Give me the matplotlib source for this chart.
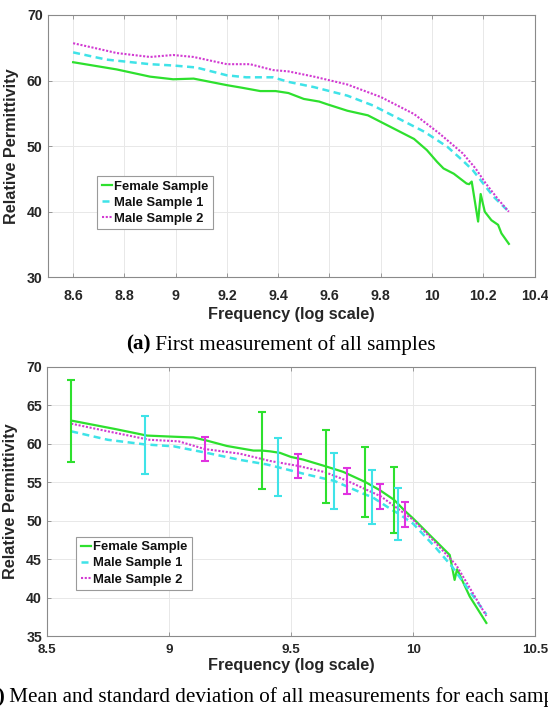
import matplotlib
matplotlib.use("Agg")
import matplotlib.pyplot as plt

# ---------------- data: (a) first measurement ----------------
fem_a_x = [8.6, 8.77, 8.9, 8.99, 9.07, 9.2, 9.26, 9.33, 9.39, 9.44, 9.5, 9.56, 9.59, 9.67, 9.75,
           9.84, 9.93, 9.98, 10.02, 10.045, 10.085, 10.135, 10.145, 10.155, 10.18, 10.19, 10.206,
           10.232, 10.258, 10.271, 10.3]
fem_a_y = [62.8, 61.7, 60.6, 60.2, 60.3, 59.3, 58.9, 58.4, 58.4, 58.1, 57.2, 56.8, 56.4, 55.4, 54.7,
           52.9, 51.1, 49.4, 47.6, 46.6, 45.8, 44.3, 44.2, 44.6, 38.5, 42.7, 40.0,
           38.7, 38.0, 36.7, 35.1]

m1_a_x = [8.6, 8.73, 8.9, 8.99, 9.08, 9.2, 9.275, 9.38, 9.44, 9.54, 9.67, 9.77, 9.86, 9.97,
          10.06, 10.12, 10.16, 10.19, 10.24, 10.3]
m1_a_y = [64.3, 63.2, 62.5, 62.3, 62.0, 60.8, 60.5, 60.5, 59.8, 59.0, 57.7, 56.2, 54.4, 52.2,
          49.9, 47.8, 46.3, 44.8, 42.3, 40.0]

m2_a_x = [8.6, 8.68, 8.77, 8.9, 8.99, 9.07, 9.2, 9.29, 9.38, 9.44, 9.54, 9.67, 9.8, 9.93,
          10.03, 10.12, 10.17, 10.21, 10.26, 10.3]
m2_a_y = [65.7, 65.0, 64.2, 63.6, 63.9, 63.6, 62.5, 62.5, 61.6, 61.4, 60.6, 59.4, 57.5, 54.9,
          51.9, 48.9, 46.6, 44.3, 41.8, 40.0]

# ---------------- data: (b) mean of all measurements ----------------
fem_b_x = [8.6, 8.78, 8.91, 9.02, 9.10, 9.155, 9.237, 9.346, 9.381, 9.414, 9.455, 9.5, 9.55,
           9.642, 9.714, 9.805, 9.864, 9.922, 9.966, 10.0, 10.068, 10.123, 10.15, 10.17, 10.18,
           10.232, 10.3]
fem_b_y = [63.0, 61.9, 61.05, 60.9, 60.8, 60.4, 59.7, 59.1, 59.1, 59.0, 58.8, 58.27, 57.93,
           57.05, 56.33, 55.0, 53.95, 52.7, 51.27, 50.28, 48.12, 46.39, 45.53, 42.29, 43.67,
           40.13, 36.7]

m1_b_x = [8.6, 8.75, 8.902, 9.02, 9.155, 9.29, 9.40, 9.445, 9.55, 9.678, 9.803, 9.833, 9.918,
          9.941, 10.0, 10.095, 10.16, 10.3]
m1_b_y = [61.6, 60.5, 59.9, 59.65, 58.8, 57.9, 57.3, 56.95, 56.1, 55.15, 53.4, 53.05, 51.3,
          50.9, 49.6, 46.4, 44.0, 37.8]

m2_b_x = [8.6, 8.75, 8.92, 9.04, 9.147, 9.29, 9.414, 9.53, 9.639, 9.728, 9.868, 9.97, 10.0,
          10.095, 10.177, 10.3]
m2_b_y = [62.6, 61.6, 60.5, 60.3, 59.3, 58.7, 57.75, 57.1, 56.3, 55.2, 53.15, 50.8, 50.1,
          47.0, 44.2, 37.6]

fem_err_x = [8.6, 9.381, 9.642, 9.805, 9.922]
fem_err_mean = [62.97, 59.12, 57.01, 54.99, 52.67]
fem_err_std = [5.3, 4.95, 4.77, 4.58, 4.27]

m1_err_x = [8.902, 9.445, 9.678, 9.83, 9.938]
m1_err_mean = [59.85, 56.95, 55.12, 53.06, 50.88]
m1_err_std = [3.75, 3.75, 3.67, 3.55, 3.4]

m2_err_x = [9.147, 9.53, 9.728, 9.866, 9.968]
m2_err_mean = [59.28, 57.1, 55.16, 53.13, 50.82]
m2_err_std = [1.53, 1.6, 1.73, 1.68, 1.62]

labels = ["Female Sample", "Male Sample 1", "Male Sample 2"]

xticks_a = [8.6, 8.8, 9.0, 9.2, 9.4, 9.6, 9.8, 10.0, 10.2, 10.4]
xticklabels_a = ["8.6", "8.8", "9", "9.2", "9.4", "9.6", "9.8", "10", "10.2", "10.4"]
yticks_a = [30, 40, 50, 60, 70]
xticks_b = [8.5, 9.0, 9.5, 10.0, 10.5]
xticklabels_b = ["8.5", "9", "9.5", "10", "10.5"]
yticks_b = [35, 40, 45, 50, 55, 60, 65, 70]

xlabel = "Frequency (log scale)"
ylabel = "Relative Permittivity"
cap_a_tag, cap_a_text = "(a)", " First measurement of all samples"
cap_b_tag, cap_b_text = "(b)", " Mean and standard deviation of all measurements for each sample"

# ---------------- style ----------------
GREEN = "#2ee02e"
CYAN = "#3fe3e8"
MAGENTA = "#d23ad2"
TXT = "#262626"
SPINE = "#8a8a8a"
SANS = ["Liberation Sans", "DejaVu Sans"]
SERIF = ["Liberation Serif", "DejaVu Serif"]

W, H = 548, 709
fig = plt.figure(figsize=(W / 100, H / 100), dpi=100)


def px_axes(l, t, r, b):
    return fig.add_axes([l / W, 1 - b / H, (r - l) / W, (b - t) / H])


def style(ax, xticks, xtl, yticks, xlim, ylim, xpad, xlab_y, xsize):
    ax.set_xlim(*xlim)
    ax.set_ylim(*ylim)
    ax.set_xticks(xticks)
    ax.set_xticklabels(xtl)
    ax.set_yticks(yticks)
    ax.grid(True, color="#e8e8e8", lw=0.7)
    ax.set_axisbelow(True)
    for s in ax.spines.values():
        s.set_color(SPINE)
        s.set_linewidth(0.8)
    ax.tick_params(direction="in", length=3, width=0.6, color=SPINE,
                   top=True, right=True, labelsize=10.2, labelcolor=TXT)
    ax.tick_params(axis="x", pad=xpad, labelsize=xsize)
    ax.tick_params(axis="y", pad=3.5)
    for lab in ax.get_xticklabels() + ax.get_yticklabels():
        lab.set_fontfamily(SANS)
        lab.set_fontweight("bold")
    ax.set_xlabel(xlabel, fontsize=11.7, fontweight="bold", color=TXT, family=SANS,
                  va="baseline")
    ax.xaxis.set_label_coords(0.5, xlab_y)
    ax.set_ylabel(ylabel, fontsize=11.7, fontweight="bold", color=TXT, family=SANS)
    ax.yaxis.set_label_coords(-0.059, 0.5)


def legend(ax, anchor):
    lg = ax.legend(loc="upper left", bbox_to_anchor=anchor, borderaxespad=0,
                   prop={"family": SANS, "weight": "bold", "size": 9.4},
                   handlelength=0.8, handletextpad=0.15, borderpad=0.35,
                   labelspacing=0.3, fancybox=False, framealpha=1)
    lg.get_frame().set_edgecolor("#9a9a9a")
    lg.get_frame().set_linewidth(0.8)
    for t in lg.get_texts():
        t.set_color("#111111")


# ---------------- (a) ----------------
axa = px_axes(47.5, 15, 534.5, 277.3)
axa.plot(fem_a_x, fem_a_y, color=GREEN, lw=1.6, label=labels[0])
axa.plot(m1_a_x, m1_a_y, color=CYAN, lw=1.8, dashes=(2.8, 1.8), label=labels[1])
axa.plot(m2_a_x, m2_a_y, color=MAGENTA, lw=1.5, dashes=(1.0, 0.8), label=labels[2])
style(axa, xticks_a, xticklabels_a, yticks_a, (8.5, 10.4), (30, 70), 8.4, -0.159, 10.2)
legend(axa, ((97 - 47.5) / 487, (277.3 - 176) / 262.3))

# ---------------- (b) ----------------
axb = px_axes(46.8, 366.7, 535.2, 636)
axb.plot(fem_b_x, fem_b_y, color=GREEN, lw=1.6, label=labels[0])
axb.plot(m1_b_x, m1_b_y, color=CYAN, lw=1.8, dashes=(2.8, 1.8), label=labels[1])
axb.plot(m2_b_x, m2_b_y, color=MAGENTA, lw=1.5, dashes=(1.0, 0.8), label=labels[2])
ekw = dict(fmt="none", elinewidth=1.5, capsize=2.6, capthick=1.5)
axb.errorbar(fem_err_x, fem_err_mean, yerr=fem_err_std, ecolor=GREEN, **ekw)
axb.errorbar(m1_err_x, m1_err_mean, yerr=m1_err_std, ecolor=CYAN, **ekw)
axb.errorbar(m2_err_x, m2_err_mean, yerr=m2_err_std, ecolor="#e033e0", **ekw)
style(axb, xticks_b, xticklabels_b, yticks_b, (8.5, 10.5), (35, 70), 6.0, -0.127, 9.6)
legend(axb, ((76 - 46.8) / 488.4, (636 - 536.7) / 269.3))

# ---------------- captions ----------------
ya = 1 - 349.7 / H
fig.text(150.5 / W, ya, cap_a_tag, ha="right", va="baseline", family=SERIF,
         fontweight="bold", fontsize=15.25, color="black")
fig.text(150.5 / W, ya, cap_a_text, ha="left", va="baseline", family=SERIF,
         fontsize=15.25, color="black")
yb = 1 - 701.7 / H
fig.text(4.5 / W, yb, cap_b_tag, ha="right", va="baseline", family=SERIF,
         fontweight="bold", fontsize=15.25, color="black")
fig.text(4.5 / W, yb, cap_b_text, ha="left", va="baseline", family=SERIF,
         fontsize=15.25, color="black")

fig.savefig("out.png", dpi=100, facecolor="white")
